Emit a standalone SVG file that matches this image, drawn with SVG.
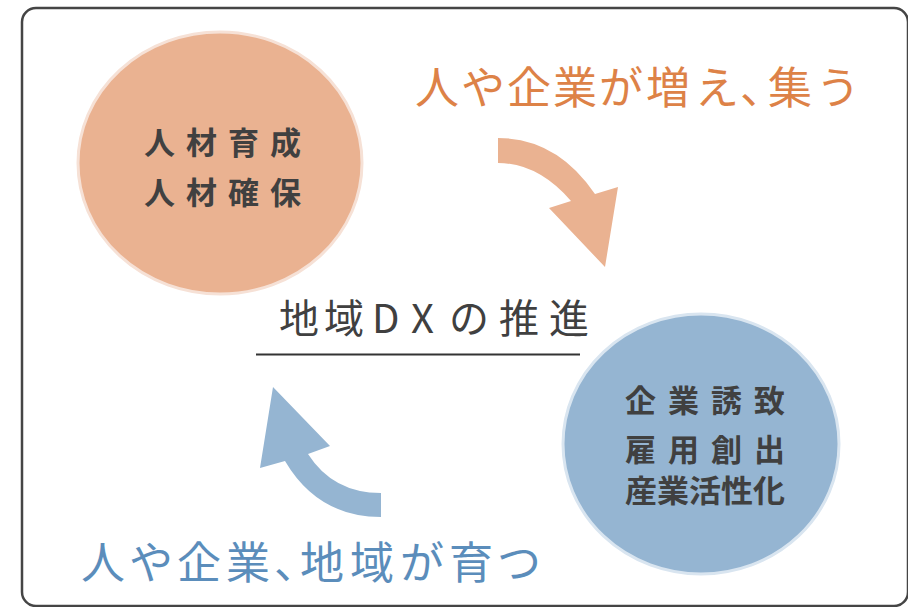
<svg xmlns="http://www.w3.org/2000/svg" width="908" height="607" viewBox="0 0 908 607">
<style>
.jp{font-family:"Noto Sans CJK JP","Noto Sans",sans-serif}
.node{font-size:31px;font-weight:700;fill:#404040}
.big{font-size:44px}
</style>
<rect width="908" height="607" fill="#ffffff"/>
<rect x="22" y="8" width="886" height="598" rx="14" fill="none" stroke="#454545" stroke-width="2.5"/>
<g id="node-jinzai">
<ellipse cx="220" cy="163" rx="142" ry="131" fill="#eab291" stroke="#f6e1d6" stroke-width="3"/>
<text class="jp node" x="144" y="154" textLength="157" lengthAdjust="spacing">人材育成</text>
<text class="jp node" x="144" y="204" textLength="157" lengthAdjust="spacing">人材確保</text>
</g>
<g id="node-kigyo">
<ellipse cx="701" cy="444" rx="138" ry="130" fill="#95b5d2" stroke="#d9e5f0" stroke-width="3"/>
<text class="jp node" x="625" y="412" textLength="160" lengthAdjust="spacing">企業誘致</text>
<text class="jp node" x="625" y="461" textLength="160" lengthAdjust="spacing">雇用創出</text>
<text class="jp node" x="625" y="502" textLength="160" lengthAdjust="spacingAndGlyphs">産業活性化</text>
</g>
<g id="center-title">
<text class="jp" x="279 324 372 411 449 499 549" y="333" font-size="40" fill="#404040">地域DXの推進</text>
<line x1="256" y1="354.5" x2="580" y2="354.5" stroke="#333333" stroke-width="2"/>
</g>
<g id="label-top">
<text class="jp big" x="415 461 507 553 599 646 695 740 768 816" y="104" fill="#dd8247">人や企業が増え、集う</text>
</g>
<g id="label-bottom">
<text class="jp big" x="81 129 177 226 274 300 350 400 449 497" y="579" fill="#5b8dbb">人や企業、地域が育つ</text>
</g>
<g id="connectors">
<path d="M498,138 Q557,138 595,194 L618,187 L605,267 L549,208 L571,201 Q538,163 498,163 Z" fill="#eab291"/>
<path d="M381,493 Q333,493 308,454 L330,446 L273,387 L260,468 L285,461 Q318,517 381,517 Z" fill="#95b5d2"/>
</g>
</svg>
